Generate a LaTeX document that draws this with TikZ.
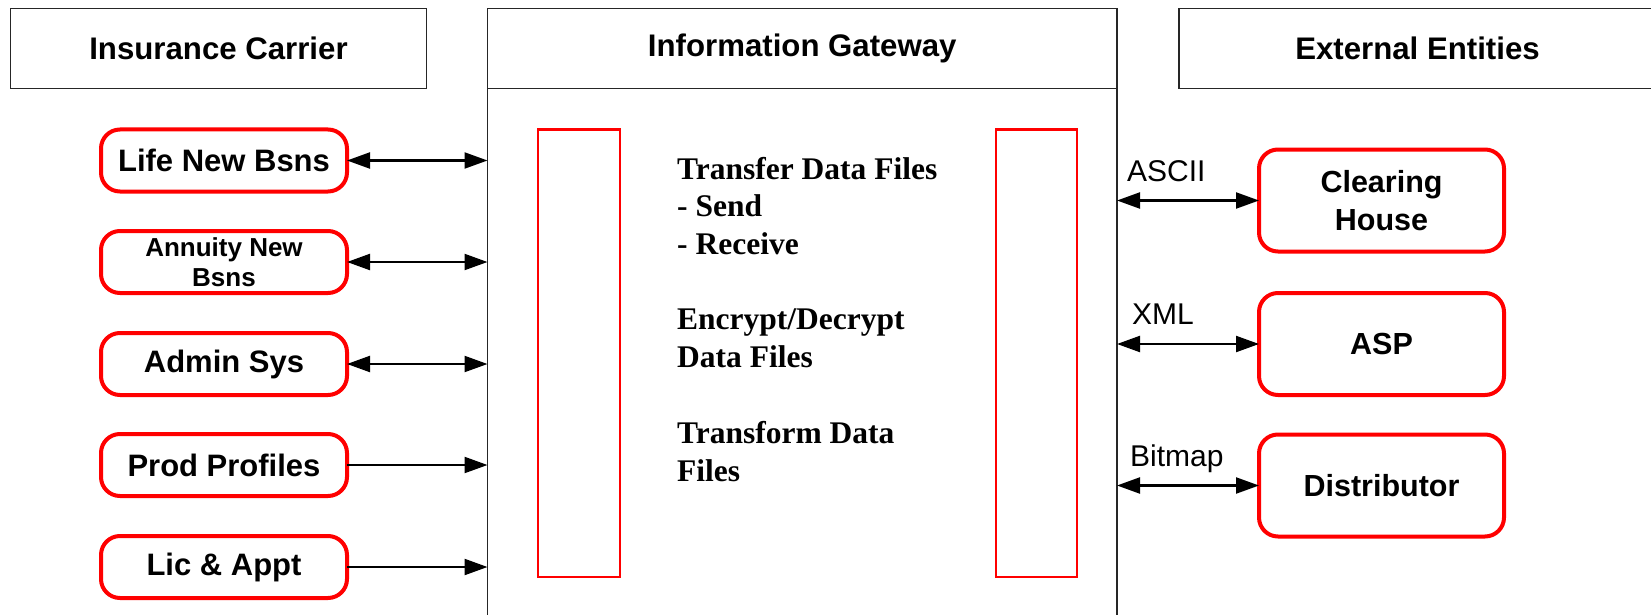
\documentclass[tikz,border=0pt]{standalone}
\usepackage{fontspec}
\setmainfont{Liberation Sans}
\newfontfamily\tnr{Liberation Serif}
\usetikzlibrary{arrows.meta}
\definecolor{boxred}{RGB}{255,0,0}
\begin{document}
\begin{tikzpicture}[x=1pt,y=-1pt,
  hdr/.style={draw=black!85, line width=1.5pt, inner sep=0pt, outer sep=0pt, minimum height=80pt,
    font=\bfseries\fontsize{31.2}{36}\selectfont},
  sysbox/.style={draw=boxred, line width=4pt, rounded corners=19pt, inner sep=0pt, outer sep=0pt,
    minimum width=246pt, minimum height=62pt, align=center, font=\bfseries\fontsize{31}{36}\selectfont},
  extbox/.style={sysbox, minimum width=245pt, minimum height=102pt, font=\bfseries\fontsize{30.5}{38}\selectfont},
  redbar/.style={draw=boxred, line width=2.5pt, inner sep=0pt, outer sep=0pt, minimum width=82pt, minimum height=447.5pt},
  gwtext/.style={anchor=base west, inner sep=0pt, font=\tnr\bfseries\fontsize{31.5}{38}\selectfont},
  fmt/.style={anchor=base west, inner sep=0pt, font=\fontsize{30}{36}\selectfont},
  conn/.style={line width=2.2pt, -{Triangle[length=23pt,width=16pt]}},
  bconn/.style={line width=2.2pt, {Triangle[length=23pt,width=16pt]}-{Triangle[length=23pt,width=16pt]}}
]
\useasboundingbox (0,0) rectangle (1651,615);
\clip (0,0) rectangle (1651,615);

% header boxes
\node[hdr, minimum width=416pt] (ic) at (218.5,48.5) {Insurance Carrier};
\node[hdr, minimum width=629.5pt] (gwh) at (802.25,48.5) {Information Gateway};
\node[hdr, minimum width=477pt] (ee) at (1417.5,48.5) {External Entities};

% gateway body
\node[draw=black!85, line width=1.5pt, inner sep=0pt, outer sep=0pt, minimum width=629.5pt, minimum height=561.5pt] (gwb) at (802.25,369.25) {};

% red bars
\node[redbar] (barL) at (579,353.25) {};
\node[redbar, minimum width=81pt] (barR) at (1036.5,353.25) {};

% gateway text
\node[gwtext] (t1) at (677,179) {Transfer Data Files};
\node[gwtext] (t2) at (677,216.5) {- Send};
\node[gwtext] (t3) at (677,254) {- Receive};
\node[gwtext] (t4) at (677,329) {Encrypt/Decrypt};
\node[gwtext] (t5) at (677,367) {Data Files};
\node[gwtext] (t6) at (677,443) {Transform Data};
\node[gwtext] (t7) at (677,481) {Files};

% left systems
\node[sysbox] (life) at (224,160.5) {Life New Bsns};
\node[sysbox, font=\bfseries\fontsize{26}{30}\selectfont] (ann) at (224,262) {Annuity New\\Bsns};
\node[sysbox] (admin) at (224,364) {Admin Sys};
\node[sysbox] (prod) at (224,465) {Prod Profiles};
\node[sysbox] (lic) at (224,567) {Lic \& Appt};

\draw[bconn] (life.east) -- (life.east -| gwb.west);
\draw[bconn] (ann.east) -- (ann.east -| gwb.west);
\draw[bconn] (admin.east) -- (admin.east -| gwb.west);
\draw[conn] (prod.east) -- (prod.east -| gwb.west);
\draw[conn] (lic.east) -- (lic.east -| gwb.west);

% external entities
\node[extbox] (ch) at (1381.5,200.5) {Clearing\\House};
\node[extbox] (asp) at (1381.5,344) {ASP};
\node[extbox] (dist) at (1381.5,485.5) {Distributor};

\draw[bconn] (ch.west -| gwb.east) -- (ch.west);
\draw[bconn] (asp.west -| gwb.east) -- (asp.west);
\draw[bconn] (dist.west -| gwb.east) -- (dist.west);

\node[fmt] (lascii) at (1127,181) {ASCII};
\node[fmt] (lxml) at (1132,324) {XML};
\node[fmt] (lbmp) at (1130,466) {Bitmap};
\end{tikzpicture}
\end{document}
